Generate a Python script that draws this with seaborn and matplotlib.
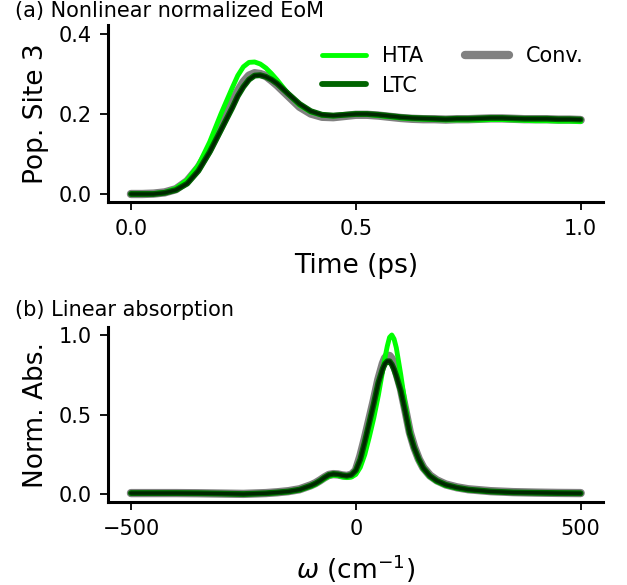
import matplotlib
matplotlib.use("Agg")
import matplotlib.pyplot as plt
import seaborn as sns

# ---- data ----
time_ps = [0.000, 0.025, 0.050, 0.075, 0.100, 0.125, 0.150, 0.175, 0.200, 0.225,
           0.2375, 0.250, 0.2625, 0.275, 0.2875, 0.300, 0.3125, 0.325, 0.350, 0.375,
           0.400, 0.425, 0.450, 0.475,
           0.500, 0.525, 0.550, 0.575, 0.600, 0.625, 0.650, 0.675, 0.700, 0.725,
           0.750, 0.775, 0.800, 0.825, 0.850, 0.875, 0.900, 0.925, 0.950, 0.975, 1.000]
pop_hta = [0.000, 0.000, 0.001, 0.004, 0.014, 0.035, 0.072, 0.130, 0.200, 0.265,
           0.296, 0.318, 0.329, 0.330, 0.325, 0.315, 0.301, 0.285, 0.250, 0.222,
           0.205, 0.197, 0.195, 0.198,
           0.200, 0.199, 0.196, 0.193, 0.190, 0.188, 0.187, 0.186, 0.185, 0.185,
           0.185, 0.185, 0.186, 0.186, 0.185, 0.184, 0.183, 0.183, 0.182, 0.182, 0.181]
pop_ltc = [0.000, 0.000, 0.000, 0.003, 0.010, 0.026, 0.058, 0.105, 0.160, 0.215,
           0.245, 0.268, 0.286, 0.296, 0.297, 0.293, 0.286, 0.276, 0.250, 0.225,
           0.207, 0.198, 0.196, 0.198,
           0.200, 0.200, 0.198, 0.195, 0.192, 0.190, 0.189, 0.188, 0.187, 0.188,
           0.188, 0.189, 0.190, 0.190, 0.189, 0.188, 0.188, 0.188, 0.187, 0.187, 0.186]
pop_conv = [0.000, 0.000, 0.001, 0.004, 0.012, 0.032, 0.066, 0.112, 0.168, 0.228,
            0.257, 0.280, 0.296, 0.302, 0.300, 0.295, 0.284, 0.272, 0.245, 0.218,
            0.201, 0.193, 0.192, 0.195,
            0.198, 0.198, 0.196, 0.193, 0.190, 0.188, 0.187, 0.187, 0.186, 0.187,
            0.187, 0.188, 0.189, 0.189, 0.188, 0.187, 0.187, 0.187, 0.186, 0.186, 0.185]

omega = [-500, -450, -400, -350, -300, -250, -200, -175, -150, -125, -100, -90, -80,
         -70, -60, -50, -40, -30, -20, -10, 0, 10, 20, 30, 40, 50, 60, 65, 70, 75,
         80, 85, 90, 100, 110, 120, 130, 140, 150, 165, 180, 200, 225, 250, 300,
         350, 400, 450, 500]
abs_hta = [0.008, 0.008, 0.008, 0.007, 0.005, 0.002, 0.006, 0.010, 0.016, 0.027,
           0.050, 0.062, 0.080, 0.098, 0.113, 0.120, 0.118, 0.110, 0.105, 0.108,
           0.125, 0.170, 0.250, 0.360, 0.480, 0.620, 0.780, 0.860, 0.930, 0.985,
           1.000, 0.975, 0.920, 0.750, 0.560, 0.400, 0.290, 0.210, 0.160, 0.110,
           0.080, 0.055, 0.038, 0.028, 0.017, 0.012, 0.010, 0.008, 0.007]
abs_ltc = [0.008, 0.008, 0.008, 0.007, 0.005, 0.002, 0.007, 0.012, 0.018, 0.030,
           0.055, 0.068, 0.085, 0.105, 0.122, 0.128, 0.126, 0.120, 0.116, 0.122,
           0.150, 0.220, 0.330, 0.450, 0.570, 0.700, 0.790, 0.820, 0.835, 0.835,
           0.815, 0.785, 0.745, 0.650, 0.520, 0.380, 0.290, 0.220, 0.165, 0.115,
           0.085, 0.060, 0.042, 0.030, 0.018, 0.012, 0.010, 0.008, 0.007]
abs_conv = [0.008, 0.008, 0.008, 0.007, 0.005, 0.003, 0.008, 0.013, 0.020, 0.032,
            0.057, 0.070, 0.087, 0.106, 0.122, 0.127, 0.125, 0.119, 0.116, 0.123,
            0.150, 0.240, 0.350, 0.470, 0.590, 0.720, 0.820, 0.855, 0.870, 0.868,
            0.850, 0.810, 0.765, 0.665, 0.530, 0.390, 0.295, 0.222, 0.168, 0.118,
            0.088, 0.062, 0.044, 0.032, 0.020, 0.014, 0.011, 0.009, 0.008]

labels = ["HTA", "LTC", "Conv."]

# ---- style ----
sns.set_style("ticks")
plt.rcParams["font.family"] = ["DejaVu Sans"]
plt.rcParams.update({
    "axes.linewidth": 2.2,
    "xtick.major.width": 1.3,
    "ytick.major.width": 1.3,
    "xtick.major.size": 6,
    "ytick.major.size": 6,
    "xtick.major.pad": 6,
    "ytick.major.pad": 6,
    "xtick.labelsize": 15,
    "ytick.labelsize": 15,
    "axes.labelsize": 19,
    "xtick.color": "black",
    "ytick.color": "black",
    "axes.edgecolor": "black",
    "text.color": "black",
    "axes.labelcolor": "black",
})

fig = plt.figure(figsize=(6.27, 5.85), dpi=100)
ax1 = fig.add_axes([0.173, 0.6547, 0.789, 0.3026])
ax2 = fig.add_axes([0.173, 0.1419, 0.789, 0.2991])

def draw(ax, x, y_conv, y_hta, y_ltc):
    sns.lineplot(x=x, y=y_conv, ax=ax, color="#808080", lw=6, label=labels[2],
                 sort=False, estimator=None)
    sns.lineplot(x=x, y=y_hta, ax=ax, color="#00ff00", lw=3.5, label=labels[0],
                 sort=False, estimator=None)
    sns.lineplot(x=x, y=y_ltc, ax=ax, color="#006400", lw=4.2, label=labels[1],
                 sort=False, estimator=None)
    sns.lineplot(x=x, y=y_ltc, ax=ax, color="black", lw=2.4, alpha=0.6,
                 sort=False, estimator=None, legend=False)

draw(ax1, time_ps, pop_conv, pop_hta, pop_ltc)
draw(ax2, omega, abs_conv, abs_hta, abs_ltc)

# top axes
ax1.set_ylim(-0.02, 0.4225)
ax1.set_xticks([0.0, 0.5, 1.0])
ax1.set_yticks([0.0, 0.2, 0.4])
ax1.set_xlabel("Time (ps)", labelpad=10)
ax1.set_ylabel("Pop. Site 3", labelpad=7)
handles, labs = ax1.get_legend_handles_labels()
order = [labs.index(l) for l in labels]
ax1.legend([handles[i] for i in order], [labs[i] for i in order],
           loc="upper right", ncol=2, frameon=False, fontsize=15,
           handlelength=2.1, columnspacing=2.0, borderaxespad=0.2,
           handletextpad=0.8, labelspacing=0.45,
           bbox_to_anchor=(0.985, 0.95))

# bottom axes
ax2.set_xticks([-500, 0, 500])
ax2.set_yticks([0.0, 0.5, 1.0])
ax2.set_xlabel(r"$\omega$ (cm$^{-1}$)", labelpad=10)
ax2.set_ylabel("Norm. Abs.", labelpad=7)
if ax2.get_legend() is not None:
    ax2.get_legend().remove()

for ax in (ax1, ax2):
    sns.despine(ax=ax)

fig.text(0.024, 0.981, "(a) Nonlinear normalized EoM", fontsize=15, va="center", ha="left")
fig.text(0.024, 0.470, "(b) Linear absorption", fontsize=15, va="center", ha="left")

fig.savefig("out.png", dpi=100)
